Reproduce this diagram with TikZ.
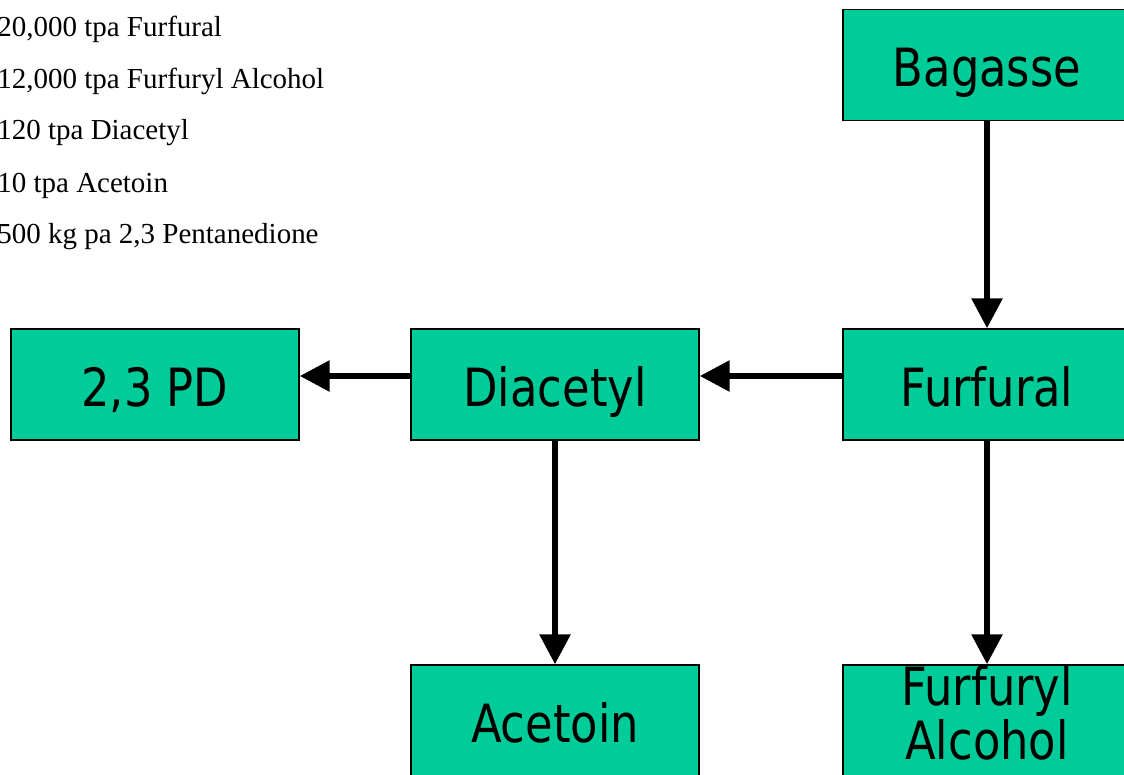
\documentclass[tikz,border=0pt]{standalone}
\usepackage{fontspec}
\setmainfont{Liberation Serif}
\newfontfamily\boxfont{DejaVu Sans}[FakeStretch=0.85]
\usetikzlibrary{arrows.meta}
\definecolor{boxgreen}{RGB}{0,204,153}
\begin{document}
\begin{tikzpicture}[x=0.02cm, y=-0.02cm,
 stage/.style = {%
      rectangle, draw=black, line width=0.85pt, fill=boxgreen,
      minimum width=5.76cm, minimum height=2.22cm, inner sep=0pt,
      text height=25pt, text depth=0pt,
      align=center, font=\boxfont\fontsize{30}{31.2}\selectfont},
 flow/.style = {draw=black, line width=0.12cm,
      -{Triangle[length=0.6cm,width=0.6cm]}},
 output/.style = {anchor=base west, inner sep=0pt,
      font=\fontsize{16.5}{19}\selectfont}
                    ]
\useasboundingbox (0,0) rectangle (1124,774);
\clip (0,0) rectangle (1124,774);
%
\node(bagasse)  [stage] at (987,  65)   {Bagasse};
\node(furfural) [stage] at (987, 384.5) {Furfural};
\node(diacetyl) [stage] at (555, 384.5) {Diacetyl};
\node(pd)       [stage] at (155, 384.5) {2,3 PD};
\node(acetoin)  [stage] at (555, 720.5) {Acetoin};
\node(falcohol) [stage, text height=50pt, text depth=5.2pt]
                at (987, 720.5) {Furfuryl\\Alcohol};
%
\node(tfurfural) [output] at (-3,  36) {20,000 tpa Furfural};
\node(tfalcohol) [output] at (-3,  88) {12,000 tpa Furfuryl Alcohol};
\node(tdiacetyl) [output] at (-3, 139) {120 tpa Diacetyl};
\node(tacetoin)  [output] at (-3, 192) {10 tpa Acetoin};
\node(tpd)       [output] at (-3, 243) {500 kg pa 2,3 Pentanedione};
%
\path[flow] (bagasse)  -- (furfural);
\path[flow] (furfural) -- (falcohol);
\path[flow] (diacetyl) -- (acetoin);
\path[flow] ([yshift=0.17cm]furfural.west) -- ([yshift=0.17cm]diacetyl.east);
\path[flow] ([yshift=0.17cm]diacetyl.west) -- ([yshift=0.17cm]pd.east);
\end{tikzpicture}
\end{document}
